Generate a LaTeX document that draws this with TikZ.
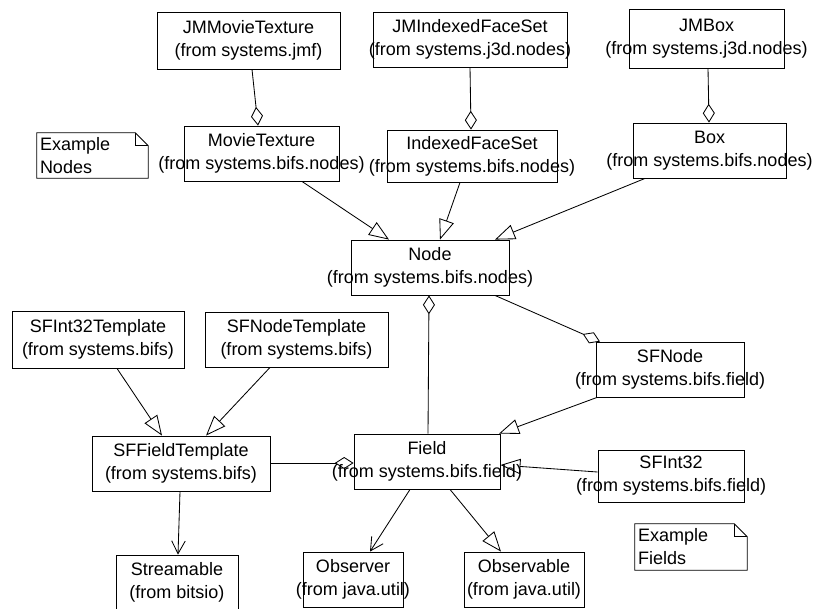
\documentclass[tikz,border=0pt]{standalone}
\usepackage{fontspec}
\setmainfont{Liberation Sans}
\usetikzlibrary{arrows.meta}
\newcommand{\px}{0.025cm}
\newcommand{\zl}[1]{\makebox[0pt]{#1}}
\newcommand{\kl}[2]{\zl{#1}\\\zl{(from #2)}}
\tikzset{
	%Define standard arrow tip
	>={Straight Barb[length=3.2mm,width=3.4mm]},
	%Define style for class boxes
	klasse/.style 2 args={
		rectangle,
		draw=black, line width=0.6pt,
		inner sep=0pt,
		minimum width=#1*\px,
		minimum height=#2*\px,
		align=center,
		font=\fontsize{12.8}{16.4}\selectfont},
	%Define style for notes
	notiz/.style 2 args={
		rectangle,
		inner sep=0pt,
		minimum width=#1*\px,
		minimum height=#2*\px,
		text width=(#1-6)*\px,
		align=left,
		font=\fontsize{12.8}{16.4}\selectfont},
	rand/.style={draw=black, line width=0.6pt},
	% Define arrow styles
	erbt/.style={-{Triangle[open,length=5mm,width=3.8mm]}, line width=0.6pt},
	agg/.style={-{Diamond[open,length=4.7mm,width=3mm]}, line width=0.6pt},
	gga/.style={{Diamond[open,length=4.7mm,width=3mm]}-, line width=0.6pt},
	nav/.style={->, line width=0.6pt}
}
\begin{document}
\begin{tikzpicture}[x=\px, y=-\px]
	\useasboundingbox (0,0) rectangle (819,608);

	\node[klasse={183}{57}] (jmmt) at (248.5,40.5) {\kl{JMMovieTexture}{systems.jmf}};
	\node[klasse={194}{55}] (jmifs) at (470,39.5) {\kl{JMIndexedFaceSet}{systems.j3d.nodes}};
	\node[klasse={155}{59}] (jmbox) at (706.5,38.5) {\kl{JMBox}{systems.j3d.nodes}};

	\node[klasse={155}{55}] (mt) at (261.5,153.5) {\kl{MovieTexture}{systems.bifs.nodes}};
	\node[klasse={170}{52}] (ifs) at (472,156) {\kl{IndexedFaceSet}{systems.bifs.nodes}};
	\node[klasse={153}{55}] (box) at (709.5,150.5) {\kl{Box}{systems.bifs.nodes}};

	\node[notiz={111}{45}] (exnodes) at (92.5,155.5) {Example\\Nodes};

	\node[klasse={158}{55}] (nd) at (430,267.5) {\kl{Node}{systems.bifs.nodes}};

	\node[klasse={172}{57}] (sfi32t) at (98,339.5) {\kl{SFInt32Template}{systems.bifs}};
	\node[klasse={183}{55}] (sfnt) at (296.5,339.5) {\kl{SFNodeTemplate}{systems.bifs}};
	\node[klasse={148}{55}] (sfnode) at (670,369.5) {\kl{SFNode}{systems.bifs.field}};

	\node[klasse={178}{55}] (sfft) at (181,463.5) {\kl{SFFieldTemplate}{systems.bifs}};
	\node[klasse={146}{55}] (field) at (427,461.5) {\kl{Field}{systems.bifs.field}};
	\node[klasse={146}{52}] (sfint) at (671,476) {\kl{SFInt32}{systems.bifs.field}};

	\node[notiz={112}{46}] (exfields) at (691,547) {Example\\Fields};

	\node[klasse={122}{55}] (stream) at (177,582.5) {\kl{Streamable}{bitsio}};
	\node[klasse={100}{55}] (obs) at (353,579.5) {\kl{Observer}{java.util}};
	\node[klasse={120}{55}] (obsable) at (524,579.5) {\kl{Observable}{java.util}};

	% note outlines with folded corner
	\foreach \n in {exnodes,exfields}{
		\draw[rand] (\n.south west) -- (\n.north west) -- ([xshift=-13*\px]\n.north east)
			-- ([yshift=-13*\px]\n.north east) -- (\n.south east) -- cycle;
		\draw[rand] ([xshift=-13*\px]\n.north east) |- ([yshift=-13*\px]\n.north east);
	}

	\path
	(jmmt.south -| 252,0) edge[agg] (mt.north -| 258,0)
	(jmifs.south -| 470,0) edge[agg] (ifs.north -| 471,0)
	(jmbox.south -| 708,0) edge[agg] (box.north -| 709,0)

	(mt.south -| 302,0) edge[erbt] (nd.north -| 389,0)
	(ifs.south -| 460,0) edge[erbt] (nd.north -| 440,0)
	(box.south -| 645,0) edge[erbt] (nd.north -| 495,0)

	(nd.south -| 429,0) edge[gga] (field.north -| 428,0)
	(nd.south -| 495,0) edge[agg] (sfnode.north -| 600,0)
	(sfnode.south -| 597,0) edge[erbt] (field.north -| 499,0)
	(sfint.west |- 0,472) edge[erbt] (field.east |- 0,465)
	(sfft.east |- 0,463) edge[agg] (field.west |- 0,463)

	(sfi32t.south -| 117,0) edge[erbt] (sfft.north -| 162,0)
	(sfnt.south -| 270,0) edge[erbt] (sfft.north -| 206,0)

	(sfft.south -| 180,0) edge[nav] (stream.north -| 178,0)
	(field.south -| 410,0) edge[nav] (obs.north -| 370,0)
	(field.south -| 450,0) edge[erbt] (obsable.north -| 501,0)
	;

\end{tikzpicture}
\end{document}
